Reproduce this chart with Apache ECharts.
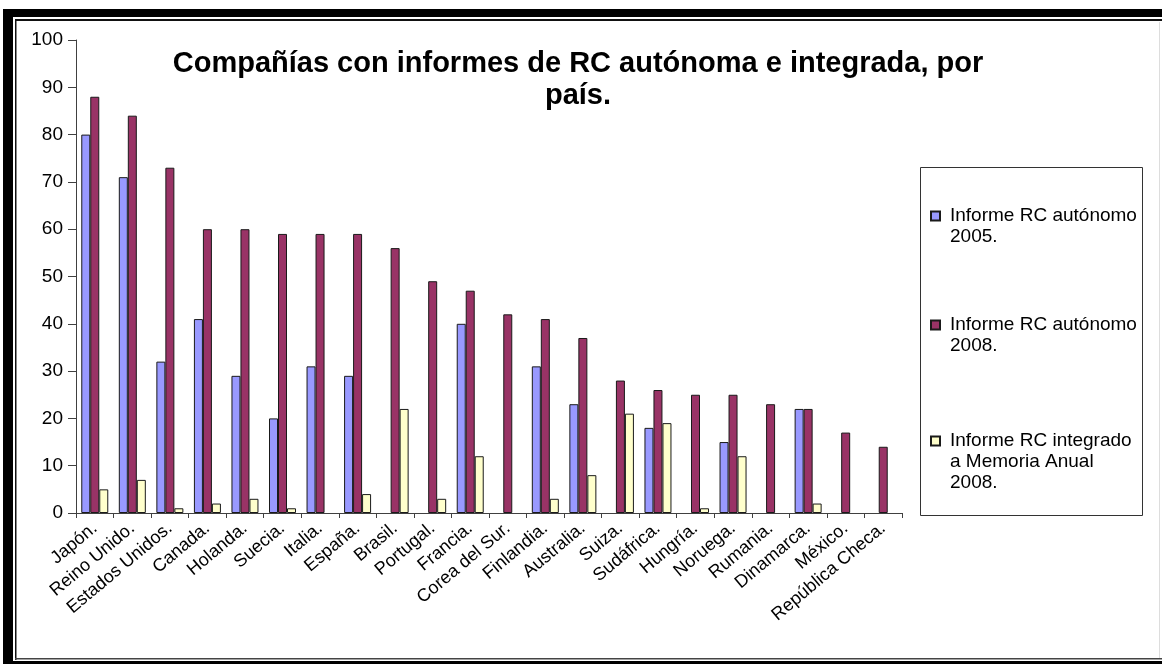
<!DOCTYPE html>
<html>
<head>
<meta charset="utf-8">
<script src="https://cdn.jsdelivr.net/npm/echarts@6/dist/echarts.min.js"></script>
<style>
html,body{margin:0;padding:0;background:#fff;}
#c{width:1162px;height:664px;}
</style>
</head>
<body>
<div id="c"></div>
<script>
var categories = ['Japón.','Reino Unido.','Estados Unidos.','Canada.','Holanda.','Suecia.','Italia.','España.','Brasil.','Portugal.','Francia.','Corea del Sur.','Finlandia.','Australia.','Suiza.','Sudáfrica.','Hungría.','Noruega.','Rumania.','Dinamarca.','México.','República Checa.'];
var autonomo2005 = [80,71,32,41,29,20,31,29,0,0,40,0,31,23,0,18,0,15,0,22,0,0];
var autonomo2008 = [88,84,73,60,60,59,59,59,56,49,47,42,41,37,28,26,25,25,23,22,17,14];
var integrado2008 = [5,7,1,2,3,1,0,4,22,3,12,0,3,8,21,19,1,12,0,2,0,0];
var seriesNames = ['Informe RC autónomo 2005.','Informe RC autónomo 2008.','Informe RC integrado a Memoria Anual 2008.'];
var legendLabels = ['\nInforme RC autónomo\n2005.','\nInforme RC autónomo\n2008.','\n\nInforme RC integrado\na Memoria Anual\n2008.'];
var yTicks = [0,10,20,30,40,50,60,70,80,90,100];
var titleText = 'Compañías con informes de RC autónoma e integrada, por\npaís.';

var colors = ['#9999FF','#993366','#FFFFCC'];
var font = 'Liberation Sans, Arial, sans-serif';
var chart = echarts.init(document.getElementById('c'), null, {renderer:'canvas'});

function mkSeries(i, data){
  return {
    name: seriesNames[i], type:'bar', data: data.map(function(v){return v===0?null:v;}),
    barWidth: 9, barGap:'0%',
    itemStyle:{color:colors[i], borderColor:'#1a1a1a', borderWidth:1},
    emphasis:{disabled:true}
  };
}
var legendTops = [184.5, 293.5, 388.5];
var legends = seriesNames.map(function(n,i){
  return {
    data:[n], orient:'vertical', left:930, top:legendTops[i], padding:0,
    itemWidth:9, itemHeight:9, icon:'rect', selectedMode:false,
    formatter:function(){return legendLabels[i];},
    textStyle:{fontFamily:font, fontSize:19, color:'#000', lineHeight:21, padding:[0,0,0,5]}
  };
});

chart.setOption({
  backgroundColor:'#fff',
  animation:false,
  color: colors,
  title:{
    text:titleText, left:573, top:43, textAlign:'center',
    textStyle:{fontFamily:font, fontSize:29, fontWeight:'bold', color:'#000', lineHeight:32}
  },
  legend: legends,
  grid:{left:76, right:260, top:40, bottom:151, containLabel:false},
  xAxis:{
    type:'category', data:categories,
    axisLine:{lineStyle:{color:'#404040', width:1}},
    axisTick:{show:true, length:5, lineStyle:{color:'#404040'}, alignWithLabel:false},
    axisLabel:{interval:0, rotate:40, margin:13, fontFamily:font, fontSize:18, color:'#000'}
  },
  yAxis:{
    type:'value', min:0, max:100, interval:10,
    splitLine:{show:false},
    axisLine:{show:true, lineStyle:{color:'#404040', width:1}},
    axisTick:{show:true, length:8, lineStyle:{color:'#404040'}},
    axisLabel:{margin:13, fontFamily:font, fontSize:19, color:'#000',
      formatter:function(v){return yTicks.indexOf(v)>=0?String(v):'';}}
  },
  series:[mkSeries(0,autonomo2005), mkSeries(1,autonomo2008), mkSeries(2,integrado2008)],
  graphic:[
    {type:'rect', shape:{x:3,y:9,width:1159,height:8}, style:{fill:'#000'}, silent:true},
    {type:'rect', shape:{x:3,y:9,width:10,height:655}, style:{fill:'#000'}, silent:true},
    {type:'rect', shape:{x:15,y:19,width:1147,height:2}, style:{fill:'#111'}, silent:true},
    {type:'rect', shape:{x:15,y:19,width:1.5,height:641}, style:{fill:'#111'}, silent:true},
    {type:'rect', shape:{x:15,y:658,width:1147,height:1.5}, style:{fill:'#444'}, silent:true},
    {type:'rect', shape:{x:3,y:661,width:1159,height:3}, style:{fill:'#000'}, silent:true},
    {type:'rect', shape:{x:1159,y:22,width:1,height:636}, style:{fill:'#ddd'}, silent:true},
    {type:'rect', shape:{x:920.5,y:167.5,width:222,height:348}, style:{fill:null, stroke:'#333', lineWidth:1}, silent:true}
  ]
});
</script>
</body>
</html>
